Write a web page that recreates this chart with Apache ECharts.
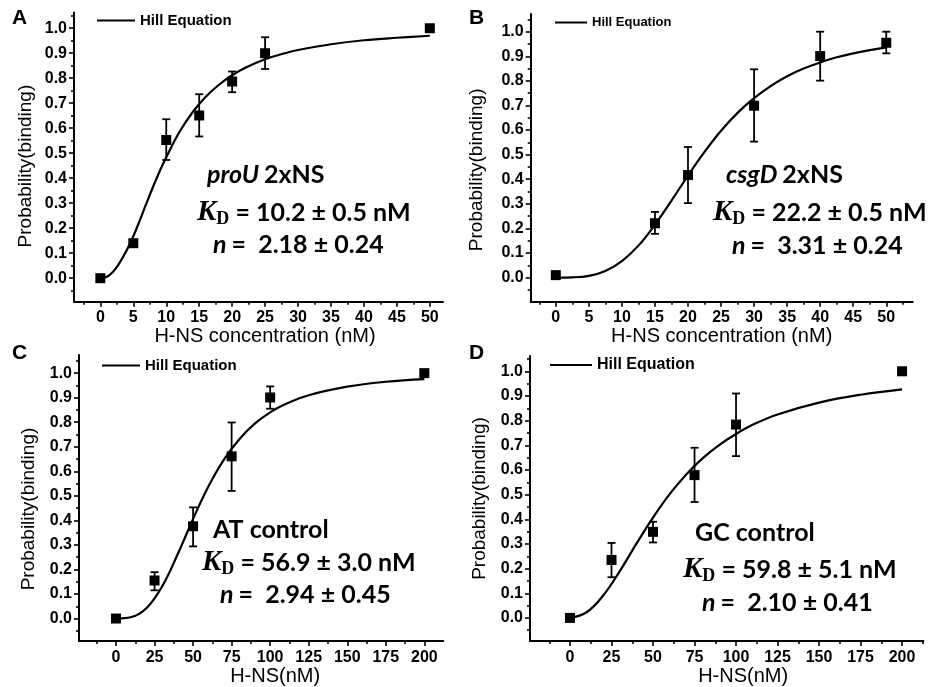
<!DOCTYPE html>
<html><head><meta charset="utf-8">
<script src="https://cdn.jsdelivr.net/npm/echarts@6/dist/echarts.min.js"></script>
<style>html,body{margin:0;padding:0;background:#fff}#c{width:940px;height:687px}</style>
</head><body><div id="c"></div>
<script>
// ---------- data ----------
const yTicks = [0, 0.1, 0.2, 0.3, 0.4, 0.5, 0.6, 0.7, 0.8, 0.9, 1.0];
const yMinor = [-0.05, 0.05, 0.15, 0.25, 0.35, 0.45, 0.55, 0.65, 0.75, 0.85, 0.95, 1.05];
const concTicks = [0, 5, 10, 15, 20, 25, 30, 35, 40, 45, 50];
const concMinorA = [-2.5, 2.5, 7.5, 12.5, 17.5, 22.5, 27.5, 32.5, 37.5, 42.5, 47.5];
const concMinorB = [-2.5, 2.5, 7.5, 12.5, 17.5, 22.5, 27.5, 32.5, 37.5, 42.5, 47.5, 52.5];
const hnsTicks = [0, 25, 50, 75, 100, 125, 150, 175, 200];
const hnsMinorC = [-12.5, 12.5, 37.5, 62.5, 87.5, 112.5, 137.5, 162.5, 187.5];
const hnsMinorD = [-12.5, 12.5, 37.5, 62.5, 87.5, 112.5, 137.5, 162.5, 187.5, 212.5];

// Panel A: proU 2xNS
const aX = [0, 5, 10, 15, 20, 25, 50];
const aY = [0, 0.14, 0.553, 0.651, 0.787, 0.90, 1.0];
const aErrX = [10, 15, 20, 25];
const aErrLo = [0.473, 0.567, 0.744, 0.837];
const aErrHi = [0.636, 0.736, 0.827, 0.964];
const aCurveX = [0, 1, 2, 3, 4, 5, 6, 7, 8, 9, 10, 12, 14, 16, 18, 20, 22, 25, 28, 30, 35, 40, 45, 50];
const aCurveY = [0, 0.006, 0.028, 0.065, 0.112, 0.168, 0.232, 0.3, 0.366, 0.428, 0.484, 0.585, 0.664, 0.726, 0.774, 0.812, 0.842, 0.876, 0.9, 0.913, 0.936, 0.952, 0.962, 0.97];

// Panel B: csgD 2xNS
const bX = [0, 15, 20, 30, 40, 50];
const bY = [0.01, 0.221, 0.417, 0.699, 0.901, 0.955];
const bErrX = [15, 20, 30, 40, 50];
const bErrLo = [0.178, 0.303, 0.553, 0.801, 0.912];
const bErrHi = [0.267, 0.531, 0.847, 1.0, 1.0];
const bCurveX = [0, 2.5, 5, 7.5, 10, 12.5, 15, 17.5, 20, 22.5, 25, 27.5, 30, 32.5, 35, 37.5, 40, 42.5, 45, 47.5, 50];
const bCurveY = [0, 0.001, 0.007, 0.027, 0.067, 0.13, 0.215, 0.313, 0.415, 0.511, 0.597, 0.67, 0.73, 0.779, 0.819, 0.85, 0.875, 0.896, 0.912, 0.925, 0.936];

// Panel C: AT control
const cX = [0, 25, 50, 75, 100, 200];
const cY = [0, 0.155, 0.376, 0.661, 0.901, 1.0];
const cErrX = [25, 50, 75, 100];
const cErrLo = [0.115, 0.294, 0.52, 0.855];
const cErrHi = [0.189, 0.453, 0.799, 0.946];
const cCurveX = [0, 10, 20, 30, 40, 50, 60, 70, 80, 90, 100, 110, 125, 150, 175, 200];
const cCurveY = [0, 0.006, 0.044, 0.132, 0.262, 0.406, 0.539, 0.648, 0.731, 0.794, 0.84, 0.874, 0.91, 0.945, 0.965, 0.976];

// Panel D: GC control
const dX = [0, 25, 50, 75, 100, 200];
const dY = [0, 0.235, 0.349, 0.579, 0.784, 1.0];
const dErrX = [25, 50, 75, 100];
const dErrLo = [0.165, 0.306, 0.47, 0.656];
const dErrHi = [0.304, 0.39, 0.69, 0.91];
const dCurveX = [0, 10, 20, 30, 40, 50, 60, 70, 80, 90, 100, 110, 125, 150, 175, 200];
const dCurveY = [0, 0.023, 0.091, 0.19, 0.301, 0.407, 0.502, 0.582, 0.648, 0.702, 0.746, 0.783, 0.825, 0.873, 0.905, 0.927];

// ---------- layout ----------
const panels = [
  {x:aX, y:aY, ex:aErrX, lo:aErrLo, hi:aErrHi, cx:aCurveX, cy:aCurveY, xt:concTicks, xm:concMinorA,
   xmin:-4, xmax:52, ymin:-0.094, ymax:1.063, grid:{left:74, top:12.5, width:369, height:289.2},
   xname:'H-NS concentration (nM)', xGap:22, xPad:[0,0,0,13], yGap:39, yPad:[0,18,0,0],
   letter:{t:'A', left:12, top:8}, leg:{left:97, top:13, w:38, fs:15},
   ann:[{left:207, cy:175, t:'{it|proU} {b|2xNS}'}, {left:197, cy:213, t:'{k|K}{d|D}{b| = 10.2 ± 0.5 nM}'}, {left:213, cy:245, t:'{n|n} {b|=  2.18 ± 0.24}'}]},
  {x:bX, y:bY, ex:bErrX, lo:bErrLo, hi:bErrHi, cx:bCurveX, cy:bCurveY, xt:concTicks, xm:concMinorB,
   xmin:-3.8, xmax:54, ymin:-0.098, ymax:1.072, grid:{left:530.7, top:14, width:382, height:287.7},
   xname:'H-NS concentration (nM)', xGap:25, xPad:[0,0,0,0], yGap:44, yPad:[0,24,0,0],
   letter:{t:'B', left:469, top:8}, leg:{left:555, top:16, w:32, fs:13},
   ann:[{left:726, cy:175, t:'{it|csgD} {b|2xNS}'}, {left:713, cy:213, t:'{k|K}{d|D}{b| = 22.2 ± 0.5 nM}'}, {left:732, cy:246, t:'{n|n} {b|=  3.31 ± 0.24}'}]},
  {x:cX, y:cY, ex:cErrX, lo:cErrLo, hi:cErrHi, cx:cCurveX, cy:cCurveY, xt:hnsTicks, xm:hnsMinorC,
   xmin:-24, xmax:212.3, ymin:-0.092, ymax:1.074, grid:{left:79, top:355, width:364.3, height:286.7},
   xname:'H-NS(nM)', xGap:21, xPad:[0,0,0,28], yGap:41, yPad:[0,22,0,0],
   letter:{t:'C', left:12, top:343}, leg:{left:102, top:358, w:38, fs:15},
   ann:[{left:213, cy:530, t:'{b|AT control}'}, {left:202, cy:563, t:'{k|K}{d|D}{b| = 56.9 ± 3.0 nM}'}, {left:220, cy:595, t:'{n|n} {b|=  2.94 ± 0.45}'}]},
  {x:dX, y:dY, ex:dErrX, lo:dErrLo, hi:dErrHi, cx:dCurveX, cy:dCurveY, xt:hnsTicks, xm:hnsMinorD,
   xmin:-24.1, xmax:212.8, ymin:-0.094, ymax:1.062, grid:{left:530, top:356, width:393.3, height:286.7},
   xname:'H-NS(nM)', xGap:22, xPad:[0,0,0,33], yGap:41, yPad:[0,0,0,0],
   letter:{t:'D', left:469, top:343}, leg:{left:550, top:357, w:42, fs:16},
   ann:[{left:695, cy:533, t:'{b|GC control}'}, {left:683, cy:570, t:'{k|K}{d|D}{b| = 59.8 ± 5.1 nM}'}, {left:702, cy:603, t:'{n|n} {b|=  2.10 ± 0.41}'}]}
];

const SANS = '"Liberation Sans", Arial, sans-serif';
const ANN = 'Lato, "Open Sans", sans-serif';
const SERIF = '"Liberation Serif", "DejaVu Serif", serif';
const FS = 25;
const annRich = {
  b:{fontFamily:ANN, fontWeight:'bold', fontSize:FS, color:'#000', lineHeight:30},
  it:{fontFamily:ANN, fontWeight:'bold', fontStyle:'italic', fontSize:FS, color:'#000', lineHeight:30},
  n:{fontFamily:ANN, fontWeight:'bold', fontStyle:'italic', fontSize:FS, color:'#000', lineHeight:30},
  k:{fontFamily:SERIF, fontWeight:'bold', fontStyle:'italic', fontSize:29, color:'#000', lineHeight:30},
  d:{fontFamily:SERIF, fontWeight:'bold', fontSize:18, color:'#000', lineHeight:30, verticalAlign:'bottom'}
};

const grids = [], xAxes = [], yAxes = [], series = [], legends = [], titles = [];
panels.forEach((p, i) => {
  grids.push(Object.assign({containLabel:false}, p.grid));
  const lab = {color:'#000', fontFamily:SANS, fontWeight:'bold', fontSize:16};
  xAxes.push({type:'value', gridIndex:i, position:'bottom', min:p.xmin, max:p.xmax,
    axisLine:{show:true, onZero:false, lineStyle:{color:'#000', width:2}},
    axisTick:{show:true, inside:false, length:5, customValues:p.xt, lineStyle:{color:'#000', width:1.6}},
    axisLabel:Object.assign({customValues:p.xt, margin:8}, lab),
    splitLine:{show:false},
    name:p.xname, nameLocation:'middle', nameGap:p.xGap,
    nameTextStyle:{color:'#000', fontFamily:SANS, fontSize:20, padding:p.xPad}});
  xAxes.push({type:'value', gridIndex:i, position:'bottom', min:p.xmin, max:p.xmax,
    axisLine:{show:false, onZero:false}, axisLabel:{show:false}, splitLine:{show:false},
    axisTick:{show:true, inside:false, length:3, customValues:p.xm, lineStyle:{color:'#000', width:1.6}}});
  yAxes.push({type:'value', gridIndex:i, position:'left', min:p.ymin, max:p.ymax,
    axisLine:{show:true, onZero:false, lineStyle:{color:'#000', width:2}},
    axisTick:{show:true, inside:false, length:5, customValues:yTicks, lineStyle:{color:'#000', width:1.6}},
    axisLabel:Object.assign({customValues:yTicks, margin:7, formatter:v => v.toFixed(1)}, lab),
    splitLine:{show:false},
    name:'Probability(binding)', nameLocation:'middle', nameRotate:90, nameGap:p.yGap,
    nameTextStyle:{color:'#000', fontFamily:SANS, fontSize:19, padding:p.yPad}});
  yAxes.push({type:'value', gridIndex:i, position:'left', min:p.ymin, max:p.ymax,
    axisLine:{show:false, onZero:false}, axisLabel:{show:false}, splitLine:{show:false},
    axisTick:{show:true, inside:false, length:3, customValues:yMinor, lineStyle:{color:'#000', width:1.6}}});

  series.push({type:'line', name:'Hill Equation', xAxisIndex:2*i, yAxisIndex:2*i,
    data:p.cx.map((v, k) => [v, p.cy[k]]), smooth:0.4, symbol:'none', silent:true,
    color:'#000', lineStyle:{color:'#000', width:2.2}, z:2});
  series.push({type:'custom', xAxisIndex:2*i, yAxisIndex:2*i, silent:true, z:3,
    data:p.ex.map((v, k) => [v, p.lo[k], p.hi[k]]),
    encode:{x:0, y:[1, 2]},
    renderItem:(params, api) => {
      const top = api.coord([api.value(0), api.value(2)]);
      const bot = api.coord([api.value(0), api.value(1)]);
      const w = 4, st = {stroke:'#000', lineWidth:1.8};
      return {type:'group', children:[
        {type:'line', shape:{x1:top[0], y1:top[1], x2:bot[0], y2:bot[1]}, style:st},
        {type:'line', shape:{x1:top[0]-w, y1:top[1], x2:top[0]+w, y2:top[1]}, style:st},
        {type:'line', shape:{x1:bot[0]-w, y1:bot[1], x2:bot[0]+w, y2:bot[1]}, style:st}
      ]};
    }});
  series.push({type:'scatter', name:'data', xAxisIndex:2*i, yAxisIndex:2*i,
    data:p.x.map((v, k) => [v, p.y[k]]), symbol:'rect', symbolSize:10, silent:true,
    itemStyle:{color:'#000', opacity:1}, z:4});

  legends.push({data:['Hill Equation'], left:p.leg.left, top:p.leg.top, padding:0, icon:'rect',
    itemWidth:p.leg.w, itemHeight:2, selectedMode:false, itemGap:5,
    textStyle:{color:'#000', fontFamily:SANS, fontWeight:'bold', fontSize:p.leg.fs}});

  titles.push({text:p.letter.t, left:p.letter.left, top:p.letter.top, padding:0,
    textStyle:{fontFamily:SANS, fontWeight:'bold', fontSize:21, lineHeight:21, color:'#000'}});
  p.ann.forEach(a => titles.push({text:a.t, left:a.left, top:a.cy - 15, padding:0,
    textStyle:{rich:annRich, lineHeight:30}}));
});

const chart = echarts.init(document.getElementById('c'), null, {renderer:'canvas'});
chart.setOption({
  animation:false, backgroundColor:'#fff',
  grid:grids, xAxis:xAxes, yAxis:yAxes, series:series, legend:legends, title:titles
});
</script></body></html>
